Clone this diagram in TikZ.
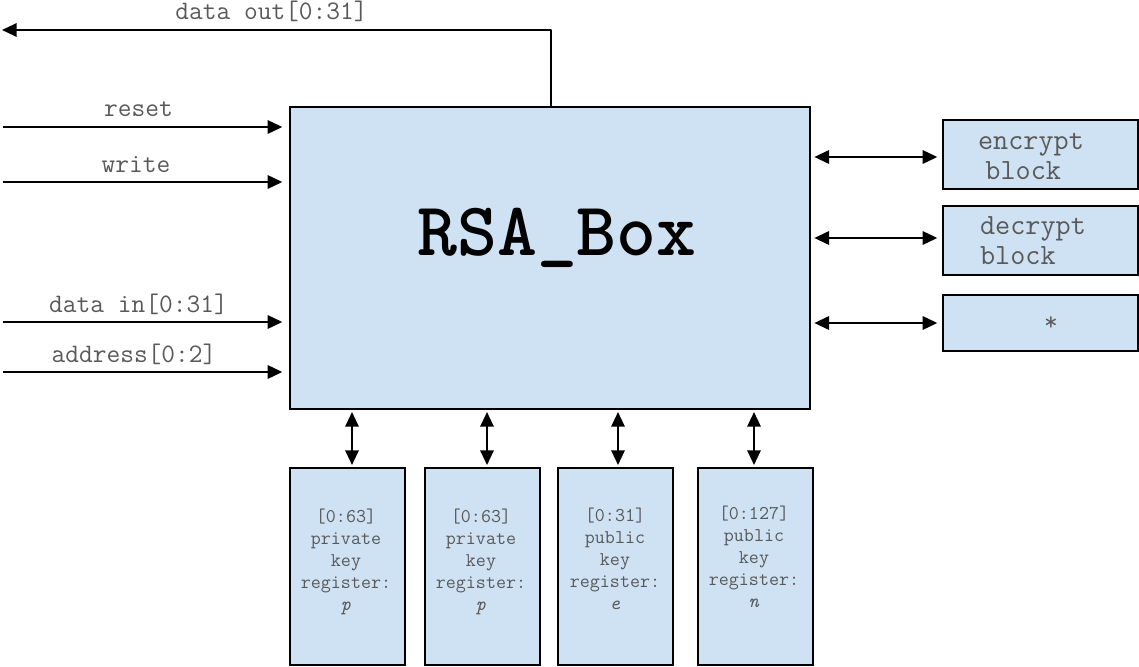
\documentclass[tikz,border=0pt]{standalone}
\usepackage{fontspec}
\usetikzlibrary{arrows.meta,calc}
\definecolor{boxfill}{HTML}{CFE2F3}
\definecolor{txt}{HTML}{595959}
\begin{document}
\begin{tikzpicture}[x=0.75pt,y=-0.75pt,
  blk/.style={draw=black,fill=boxfill,line width=1.5pt,inner sep=0pt},
  lbl/.style={font=\ttfamily\fontsize{20}{22}\selectfont,text=txt,anchor=base,inner sep=0pt},
  reg/.style={font=\ttfamily\fontsize{14.6}{16.5}\selectfont,text=txt,align=center,inner sep=0pt},
  side/.style={font=\ttfamily\fontsize{22}{22.5}\selectfont,text=txt,align=left,inner sep=0pt},
  tip/.tip={Triangle[length=11pt,width=10pt]},
  wire/.style={line width=1.6pt,-tip},
  bi/.style={line width=1.6pt,tip-tip}]
\useasboundingbox (0,0) rectangle (1139,667);

% main box
\node[blk,minimum width=390pt,minimum height=226.5pt] (main) at (550,258) {};
\node[font=\ttfamily\bfseries\fontsize{57}{64}\selectfont,anchor=base,inner sep=0pt] (title) at (557,255) {RSA\_Box};

% right blocks
\node[blk,minimum width=146.25pt,minimum height=51.75pt] (enc) at (1040.5,154.5) {};
\node[side] (enct) at (1031,156) {encrypt\\\hspace*{0.25em}block};
\node[blk,minimum width=146.25pt,minimum height=51.75pt] (dec) at (1040.5,240.5) {};
\node[side] (dect) at (1033,241) {decrypt\\block};
\node[blk,minimum width=146.25pt,minimum height=42pt] (star) at (1040.5,323) {};
\node[lbl,anchor=center] (start) at (1051,324) {*};

\draw[bi,shorten <=2.5pt,shorten >=3.5pt] (main.east |- 0,157) -- (enc.west |- 0,157);
\draw[bi,shorten <=2.5pt,shorten >=3.5pt] (main.east |- 0,238) -- (dec.west |- 0,238);
\draw[bi,shorten <=2.5pt,shorten >=3.5pt] (main.east |- 0,323) -- (star.west |- 0,323);

% bottom registers
\node[blk,minimum width=86.25pt,minimum height=147.75pt] (b1) at (347.5,566.5) {};
\node[blk,minimum width=86.25pt,minimum height=147.75pt] (b2) at (482.5,566.5) {};
\node[blk,minimum width=86.25pt,minimum height=147.75pt] (b3) at (615.5,566.5) {};
\node[blk,minimum width=86.25pt,minimum height=147.75pt] (b4) at (755.5,566.5) {};
\node[reg] (t1) at (346,562) {[0:63]\\private\\key\\register:\\\textit{p}};
\node[reg] (t2) at (481,562) {[0:63]\\private\\key\\register:\\\textit{p}};
\node[reg] (t3) at (615,559) {[0:31]\\public\\key\\register:\\\textit{e}};
\node[reg] (t4) at (754,557) {[0:127]\\public\\key\\register:\\\textit{n}};

\coordinate (a1) at (352,0);
\coordinate (a2) at (487,0);
\coordinate (a3) at (618,0);
\coordinate (a4) at (754,0);
\draw[bi,shorten <=1.5pt,shorten >=1.5pt] (a1 |- main.south) -- (a1 |- b1.north);
\draw[bi,shorten <=1.5pt,shorten >=1.5pt] (a2 |- main.south) -- (a2 |- b2.north);
\draw[bi,shorten <=1.5pt,shorten >=1.5pt] (a3 |- main.south) -- (a3 |- b3.north);
\draw[bi,shorten <=1.5pt,shorten >=1.5pt] (a4 |- main.south) -- (a4 |- b4.north);

% inputs
\coordinate (i1) at (3,127);
\coordinate (i2) at (3,182);
\coordinate (i3) at (3,322);
\coordinate (i4) at (3,372);
\draw[wire,shorten >=5pt] (i1) -- (i1 -| main.west);
\draw[wire,shorten >=5pt] (i2) -- (i2 -| main.west);
\draw[wire,shorten >=5pt] (i3) -- (i3 -| main.west);
\draw[wire,shorten >=5pt] (i4) -- (i4 -| main.west);
\node[lbl] (l1) at (138.5,117) {reset};
\node[lbl] (l2) at (136,172) {write};
\node[lbl] (l3) at (138.5,312.5) {data in[0:31]};
\node[lbl] (l4) at (134,362.5) {address[0:2]};

% output
\coordinate (o) at (2,30);
\draw[wire,line join=round] (main.north -| 551,0) |- (o);
\node[lbl] (lo) at (271.5,20) {data out[0:31]};
\end{tikzpicture}
\end{document}
